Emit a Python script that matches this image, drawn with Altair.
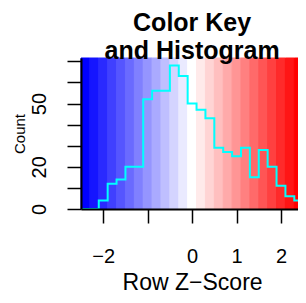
import altair as alt
import pandas as pd

# histogram / colour breaks (Row Z-Score)
breaks = [-2.5, -2.3, -2.1, -1.9, -1.7, -1.5, -1.3, -1.1, -0.9, -0.7, -0.5,
          -0.3, -0.1, 0.1, 0.3, 0.5, 0.7, 0.9, 1.1, 1.3, 1.5, 1.7, 1.9, 2.1,
          2.3, 2.5]
# counts per bin
counts = [0, 0, 4, 12, 14, 20, 20, 52, 56, 56, 68, 63, 50, 47, 43, 29, 27,
          25, 29, 15, 28, 20, 11, 6, 4]
x_ticks = [-2, -1, 0, 1, 2]
x_labeled = [-2, 0, 1, 2]
y_ticks = [0, 10, 20, 30, 40, 50, 60, 70]
y_labeled = [0, 20, 50]


def bluered(n):
    half = (n + 1) // 2
    cols = []
    for k in range(half):
        v = round(255 * k / (half - 1))
        cols.append('#%02x%02xff' % (v, v))
    for k in range(1, half):
        v = round(255 * (half - 1 - k) / (half - 1))
        cols.append('#ff%02x%02x' % (v, v))
    return cols


colors = bluered(len(breaks) - 1)
ymax = max(counts) / 0.95

band_df = pd.DataFrame({
    'lo': breaks[:-1],
    'hi': breaks[1:],
    'col': colors,
    'y0': [0] * len(colors),
    'y1': [ymax] * len(colors),
})
line_df = pd.DataFrame({'x': breaks, 'count': counts + [counts[-1]]})

FONT = 'Liberation Sans'
W, H = 217, 151
XRANGE = 222.2   # full key width; the right end is cut by the page edge

xscale = alt.Scale(domain=[breaks[0], breaks[-1]], range=[0, XRANGE],
                   nice=False, zero=False)
yscale = alt.Scale(domain=[0, ymax], nice=False, zero=False)

x_axis = alt.Axis(
    values=x_ticks,
    labelExpr='indexof(%s, datum.value) >= 0 ? datum.label : ""' % x_labeled,
    grid=False, tickSize=14, tickWidth=1.5, tickColor='black',
    domainColor='black', domainWidth=2,
    labelFont=FONT, labelFontSize=20, labelColor='black',
    labelBaseline='alphabetic', labelPadding=39,
    labelOverlap=False, labelFlush=False,
    title='Row Z\u2212Score', titleFont=FONT, titleFontSize=23,
    titleFontWeight='normal', titleColor='black',
    titleBaseline='alphabetic', titleAlign='center',
    titleX=XRANGE / 2, titleY=80, zindex=1,
)
y_axis = alt.Axis(
    values=y_ticks,
    labelExpr='indexof(%s, datum.value) >= 0 ? datum.label : ""' % y_labeled,
    grid=False, tickSize=14, tickWidth=1.5, tickColor='black',
    domainColor='black', domainWidth=2,
    labelFont=FONT, labelFontSize=20, labelColor='black',
    labelAngle=270, labelAlign='center', labelBaseline='alphabetic',
    labelPadding=22, labelOverlap=False, labelFlush=False,
    title='Count', titleFont=FONT, titleFontSize=15,
    titleFontWeight='normal', titleColor='black',
    titleAngle=270, titleBaseline='alphabetic', titleAlign='center',
    titleX=-57, titleY=H / 2, zindex=1,
)

bands = alt.Chart(band_df).mark_rect(strokeWidth=1).encode(
    x=alt.X('lo:Q', scale=xscale, axis=x_axis),
    x2='hi:Q',
    y=alt.Y('y0:Q', scale=yscale, axis=y_axis),
    y2='y1:Q',
    fill=alt.Fill('col:N', scale=None),
    stroke=alt.Stroke('col:N', scale=None),
)

hist = alt.Chart(line_df).mark_line(
    interpolate='step-after', color='#00ffff', strokeWidth=2
).encode(
    x=alt.X('x:Q', scale=xscale, axis=x_axis),
    y=alt.Y('count:Q', scale=yscale, axis=y_axis),
)

chart = alt.layer(bands, hist).properties(
    width=W, height=H,
    padding={'left': 73, 'top': 50, 'right': 0, 'bottom': 86},
    autosize=alt.AutoSizeParams(type='none'),
    title=alt.TitleParams(
        ['Color Key', 'and Histogram'], font=FONT, fontSize=25,
        fontWeight='bold', color='black', anchor='start', frame='group',
        dx=XRANGE / 2, align='center',
        lineHeight=28, offset=-6,
    ),
).configure_view(strokeWidth=0)

chart.save('out.html', embed_options={'renderer': 'svg', 'actions': False})
